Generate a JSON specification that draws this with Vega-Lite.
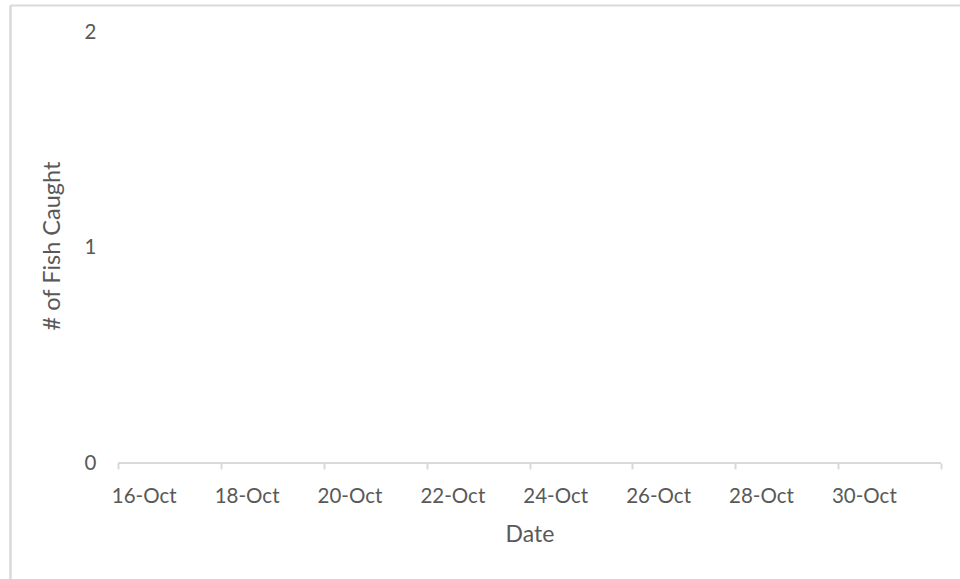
{
  "$schema": "https://vega.github.io/schema/vega-lite/v6.json",
  "width": 950,
  "height": 574,
  "autosize": "none",
  "padding": {"left": 10, "top": 5, "right": 0, "bottom": 0},
  "background": "white",
  "config": {
    "view": {"stroke": null},
    "font": "Lato",
    "axis": {"labelFont": "Lato", "titleFont": "Lato", "labelColor": "#595959", "titleColor": "#595959", "titleFontWeight": "normal", "grid": false}
  },
  "data": {
    "values": [
      {"date": "2023-10-16", "fish": null},
      {"date": "2023-10-17", "fish": null},
      {"date": "2023-10-18", "fish": null},
      {"date": "2023-10-19", "fish": null},
      {"date": "2023-10-20", "fish": null},
      {"date": "2023-10-21", "fish": null},
      {"date": "2023-10-22", "fish": null},
      {"date": "2023-10-23", "fish": null},
      {"date": "2023-10-24", "fish": null},
      {"date": "2023-10-25", "fish": null},
      {"date": "2023-10-26", "fish": null},
      {"date": "2023-10-27", "fish": null},
      {"date": "2023-10-28", "fish": null},
      {"date": "2023-10-29", "fish": null},
      {"date": "2023-10-30", "fish": null},
      {"date": "2023-10-31", "fish": null}
    ]
  },
  "layer": [
    {
      "mark": {"type": "line", "color": "#4472c4"},
      "encoding": {
        "x": {
          "field": "date", "type": "temporal",
          "scale": {"type": "utc", "nice": false, "domain": [{"year": 2023, "month": 10, "date": 13, "hours": 21, "minutes": 36, "utc": true}, {"year": 2023, "month": 11, "date": 1, "hours": 8, "minutes": 52, "utc": true}]},
          "axis": {"orient": "top", "domain": true, "domainColor": "#d9d9d9", "domainWidth": 2, "ticks": false, "labels": false, "title": null}
        },
        "y": {
          "field": "fish", "type": "quantitative",
          "scale": {"domain": [-0.53828, 2.12529], "nice": false, "zero": false},
          "axis": {"orient": "left", "domain": true, "domainColor": "#d9d9d9", "domainWidth": 2.5, "ticks": false, "labels": false, "title": null}
        }
      }
    },
    {
      "mark": {"type": "rule", "color": "#d9d9d9", "strokeWidth": 2},
      "encoding": {
        "x": {
          "datum": {"year": 2023, "month": 10, "date": 16, "utc": true}, "type": "temporal",
          "scale": {"type": "utc", "nice": false, "domain": [{"year": 2023, "month": 10, "date": 13, "hours": 21, "minutes": 36, "utc": true}, {"year": 2023, "month": 11, "date": 1, "hours": 8, "minutes": 52, "utc": true}]},
          "axis": {
            "orient": "bottom", "offset": -116, "domain": false,
            "ticks": true, "tickColor": "#d9d9d9", "tickWidth": 2, "tickSize": 6,
            "values": [
              {"year": 2023, "month": 10, "date": 16, "utc": true},
              {"year": 2023, "month": 10, "date": 18, "utc": true},
              {"year": 2023, "month": 10, "date": 20, "utc": true},
              {"year": 2023, "month": 10, "date": 22, "utc": true},
              {"year": 2023, "month": 10, "date": 24, "utc": true},
              {"year": 2023, "month": 10, "date": 26, "utc": true},
              {"year": 2023, "month": 10, "date": 28, "utc": true},
              {"year": 2023, "month": 10, "date": 30, "utc": true},
              {"year": 2023, "month": 11, "date": 1, "utc": true}
            ],
            "labelExpr": "utcdate(datum.value) == 1 ? '' : utcFormat(datum.value, '%-d-%b')",
            "labelOffset": 25.7, "labelFlush": false, "labelOverlap": false, "labelBound": false,
            "labelFontSize": 20.5, "labelPadding": 17,
            "title": "Date", "titleFontSize": 23, "titlePadding": 17, "titleX": 519.5
          }
        },
        "x2": {"datum": {"year": 2023, "month": 11, "date": 1, "utc": true}},
        "y": {
          "datum": 0, "type": "quantitative",
          "scale": {"domain": [-0.53828, 2.12529], "nice": false, "zero": false},
          "axis": {
            "orient": "left", "offset": -108, "domain": false, "ticks": false,
            "values": [0, 1, 2], "labelFontSize": 20.5, "labelPadding": 22,
            "title": "# of Fish Caught", "titleFontSize": 23.5, "titlePadding": 20, "titleY": 240.5
          }
        }
      }
    }
  ],
  "resolve": {"axis": {"x": "independent", "y": "independent"}}
}
